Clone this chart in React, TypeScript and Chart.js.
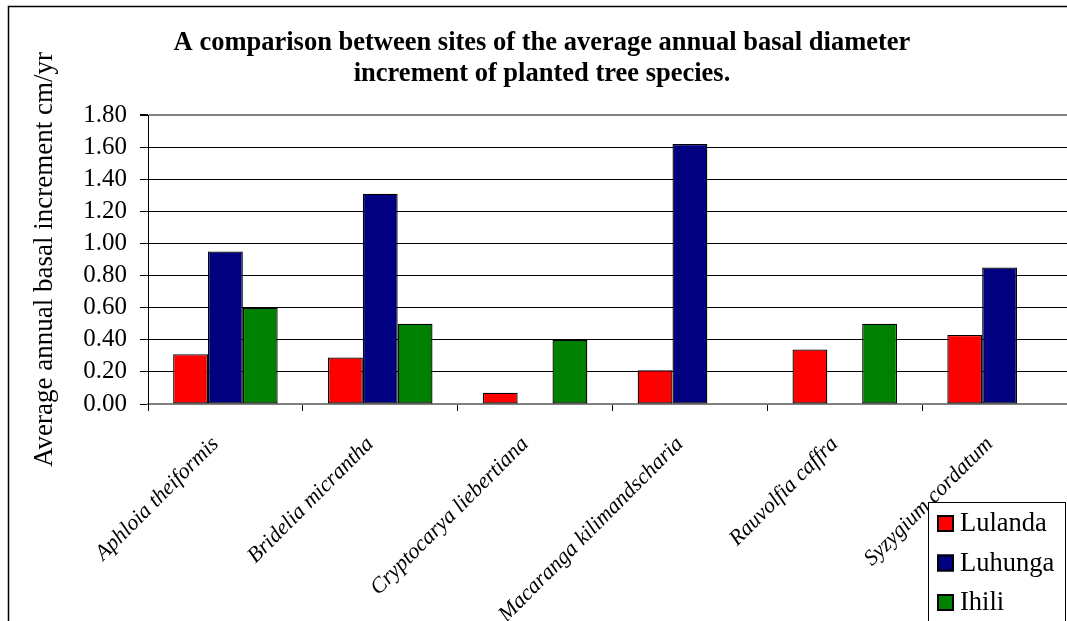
import React, { useEffect, useRef } from "react";
import { Chart, registerables } from "chart.js";

Chart.register(...registerables);

const categories = [
  "Aphloia theiformis",
  "Bridelia micrantha",
  "Cryptocarya liebertiana",
  "Macaranga kilimandscharia",
  "Rauvolfia caffra",
  "Syzygium cordatum",
];
const lulanda = [0.31, 0.29, 0.07, 0.21, 0.34, 0.43];
const luhunga = [0.95, 1.31, null, 1.62, null, 0.85];
const ihili = [0.6, 0.5, 0.4, null, 0.5, null];
const seriesNames = ["Lulanda", "Luhunga", "Ihili"];
const seriesColors = ["#FF0000", "#000080", "#008000"];
const yTicks = [0, 0.2, 0.4, 0.6, 0.8, 1.0, 1.2, 1.4, 1.6, 1.8];
const titleLines = [
  "A comparison between sites of the average annual basal diameter",
  "increment of planted tree species.",
];
const yTitle = "Average annual basal increment cm/yr";

const SERIF = "'Liberation Serif', 'Times New Roman', serif";

const framePlugin = {
  id: "frame",
  beforeDraw(chart: any) {
    const ctx = chart.ctx;
    ctx.save();
    ctx.fillStyle = "#fff";
    ctx.fillRect(0, 0, chart.width, chart.height);
    ctx.strokeStyle = "#000";
    ctx.lineWidth = 1.5;
    ctx.strokeRect(8.5, 6.5, 3000, 3000);
    ctx.restore();
  },
};

const legendPlugin = {
  id: "boxLegend",
  afterDraw(chart: any) {
    const ctx = chart.ctx;
    ctx.save();
    const bx = 928.5;
    const by = 502.5;
    ctx.fillStyle = "#fff";
    ctx.fillRect(bx, by, 137, 200);
    ctx.strokeStyle = "#000";
    ctx.lineWidth = 1;
    ctx.strokeRect(bx, by, 137, 200);
    chart.data.datasets.forEach((ds: any, i: number) => {
      const y = 515 + i * 39.5;
      ctx.fillStyle = ds.backgroundColor;
      ctx.fillRect(937, y, 17, 17);
      ctx.strokeStyle = "#000";
      ctx.lineWidth = 2;
      ctx.strokeRect(938, y + 1, 15, 15);
      ctx.fillStyle = "#000";
      ctx.font = `26.5px ${SERIF}`;
      ctx.textBaseline = "alphabetic";
      ctx.textAlign = "left";
      ctx.fillText(ds.label, 960, 531 + i * 39.5);
    });
    ctx.restore();
  },
};

export default function App() {
  const ref = useRef<HTMLCanvasElement | null>(null);

  useEffect(() => {
    if (!ref.current) return;
    const seriesData = [lulanda, luhunga, ihili];
    const chart = new Chart(ref.current, {
      type: "bar",
      data: {
        labels: categories,
        datasets: seriesNames.map((name, i) => ({
          label: name,
          data: seriesData[i] as any,
          backgroundColor: seriesColors[i],
          borderColor: "#000",
          borderWidth: 1.3,
          borderSkipped: false,
          categoryPercentage: 0.675,
          barPercentage: 1.0,
        })),
      },
      options: {
        responsive: false,
        animation: false,
        devicePixelRatio: 1,
        layout: { padding: { top: 6, left: 7, right: 13, bottom: 0 } },
        plugins: {
          legend: { display: false },
          tooltip: { enabled: false },
          title: {
            display: true,
            text: titleLines,
            color: "#000",
            font: { family: SERIF, size: 26.5, weight: "bold", lineHeight: 1.18 },
            padding: { top: 21.2, bottom: 25.3 },
          },
        },
        scales: {
          x: {
            offset: true,
            afterFit: (s: any) => {
              s.height = 217;
            },
            grid: {
              display: true,
              drawOnChartArea: false,
              drawTicks: true,
              tickLength: 7,
              offset: true,
              color: "#000",
            },
            border: { display: true, color: "#808080", width: 2 },
            ticks: {
              autoSkip: false,
              maxRotation: 45,
              minRotation: 45,
              padding: 20.5,
              labelOffset: -10,
              color: "#000",
              font: { family: SERIF, size: 22, style: "italic" },
            },
          },
          y: {
            min: 0,
            max: 1.8,
            afterFit: (s: any) => {
              s.width = 141;
            },
            afterBuildTicks: (s: any) => {
              s.ticks = yTicks.map((v) => ({ value: v }));
            },
            grid: {
              color: (c: any) => (c.tick && c.tick.value >= 1.79 ? "#808080" : "#000"),
              lineWidth: (c: any) => (c.tick && c.tick.value >= 1.79 ? 2 : 1),
              tickColor: "#000",
              tickLength: 8,
              drawTicks: true,
            },
            border: { display: true, color: "#000", width: 1 },
            ticks: {
              autoSkip: false,
              padding: 13,
              color: "#000",
              font: { family: SERIF, size: 25 },
              callback: (v: any) => Number(v).toFixed(2),
            },
            title: {
              display: true,
              text: yTitle,
              color: "#000",
              font: { family: SERIF, size: 27 },
              padding: { top: 22, bottom: 0 },
            },
          },
        },
      },
      plugins: [framePlugin, legendPlugin],
    });
    return () => chart.destroy();
  }, []);

  return (
    <div
      style={{
        position: "absolute",
        left: 0,
        top: 0,
        width: 1067,
        height: 621,
        overflow: "hidden",
        background: "#fff",
      }}
    >
      <canvas
        ref={ref}
        width={1090}
        height={621}
        style={{ display: "block", width: 1090, height: 621 }}
      />
    </div>
  );
}
